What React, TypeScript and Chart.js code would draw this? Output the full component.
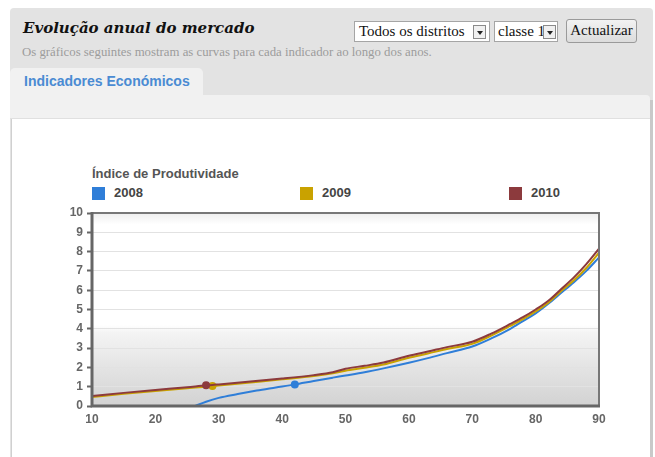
import React, { useEffect, useRef } from 'react';
import { Chart, registerables } from 'chart.js';

Chart.register(...registerables);

// ---- Data ----
const chartTitle = 'Índice de Produtividade';
const seriesNames = ['2008', '2009', '2010'];
const seriesColors = ['#2f7ed8', '#c9a200', '#8c3a3d'];

const x2008 = [26.3, 28, 30, 33, 36, 39, 42, 45, 48, 50, 53, 56, 60, 63, 66, 70, 73, 76, 78, 80, 82, 84, 86, 88, 90];
const y2008 = [0, 0.22, 0.42, 0.62, 0.8, 0.96, 1.12, 1.3, 1.47, 1.58, 1.75, 1.95, 2.24, 2.48, 2.74, 3.08, 3.5, 4.0, 4.4, 4.8, 5.3, 5.85, 6.4, 7.0, 7.7];

const x2009 = [10, 15, 20, 25, 28, 29, 30, 35, 40, 45, 48, 50, 53, 56, 60, 63, 66, 70, 73, 76, 78, 80, 82, 84, 86, 88, 90];
const y2009 = [0.47, 0.63, 0.78, 0.92, 1.0, 1.03, 1.06, 1.22, 1.38, 1.55, 1.7, 1.83, 1.98, 2.15, 2.5, 2.72, 2.95, 3.22, 3.65, 4.15, 4.5, 4.9, 5.35, 5.95, 6.5, 7.15, 7.95];

const x2010 = [10, 15, 20, 25, 28, 29, 30, 35, 40, 45, 48, 50, 53, 56, 60, 63, 66, 70, 73, 76, 78, 80, 82, 84, 86, 88, 90];
const y2010 = [0.52, 0.68, 0.83, 0.97, 1.07, 1.09, 1.12, 1.27, 1.42, 1.6, 1.75, 1.93, 2.08, 2.25, 2.6, 2.82, 3.05, 3.33, 3.75, 4.25, 4.6, 5.0, 5.45, 6.05, 6.65, 7.35, 8.15];

const markerX = [42, 29, 28];

const xTicks = [10, 20, 30, 40, 50, 60, 70, 80, 90];
const yTicks = [0, 1, 2, 3, 4, 5, 6, 7, 8, 9, 10];

const seriesX = [x2008, x2009, x2010];
const seriesY = [y2008, y2009, y2010];

const plotBg = {
  id: 'plotBg',
  beforeDraw(chart: any) {
    const { ctx, chartArea: a } = chart;
    if (!a) return;
    const g = ctx.createLinearGradient(0, a.top, 0, a.bottom);
    g.addColorStop(0, '#eeeeee');
    g.addColorStop(0.06, '#ffffff');
    g.addColorStop(0.58, '#ffffff');
    g.addColorStop(0.62, '#f4f4f4');
    g.addColorStop(1, '#d2d2d2');
    ctx.save();
    ctx.fillStyle = g;
    ctx.fillRect(a.left, a.top, a.right - a.left, a.bottom - a.top);
    ctx.restore();
  },
  afterDraw(chart: any) {
    const { ctx, chartArea: a } = chart;
    ctx.save();
    ctx.strokeStyle = '#777777';
    ctx.lineWidth = 2;
    ctx.beginPath();
    ctx.moveTo(a.left, a.top);
    ctx.lineTo(a.right, a.top);
    ctx.lineTo(a.right, a.bottom);
    ctx.stroke();
    ctx.strokeStyle = '#666666';
    ctx.lineWidth = 3;
    ctx.beginPath();
    ctx.moveTo(a.left, a.top - 1);
    ctx.lineTo(a.left, a.bottom);
    ctx.lineTo(a.right + 1, a.bottom);
    ctx.stroke();
    ctx.restore();
  },
};

function ChartBox() {
  const ref = useRef<HTMLCanvasElement>(null);
  useEffect(() => {
    if (!ref.current) return;
    const datasets = seriesNames.map((name, i) => ({
      label: name,
      data: seriesX[i].map((x, j) => ({ x, y: seriesY[i][j] })),
      borderColor: seriesColors[i],
      backgroundColor: seriesColors[i],
      borderWidth: 2,
      cubicInterpolationMode: 'monotone' as const,
      pointRadius: seriesX[i].map((x) => (x === markerX[i] ? 4 : 0)),
      pointBorderWidth: 0,
      order: 2 - i,
    }));
    const chart = new Chart(ref.current, {
      type: 'line',
      data: { datasets },
      plugins: [plotBg],
      options: {
        animation: false,
        responsive: false,
        layout: { padding: { top: 12, right: 21, left: 0, bottom: 0 } },
        plugins: { legend: { display: false }, tooltip: { enabled: false }, title: { display: false } },
        scales: {
          x: {
            type: 'linear',
            min: 10,
            max: 90,
            afterBuildTicks: (s: any) => { s.ticks = xTicks.map((v) => ({ value: v })); },
            afterFit: (s: any) => { s.height = 35; },
            grid: { display: false, drawTicks: false },
            border: { display: false },
            ticks: { padding: 6, color: '#666', font: { family: 'Liberation Sans', size: 12, weight: 'bold' } },
          },
          y: {
            type: 'linear',
            min: 0,
            max: 10,
            afterBuildTicks: (s: any) => { s.ticks = yTicks.map((v) => ({ value: v })); },
            afterFit: (s: any) => { s.width = 52; },
            grid: { color: '#e2e2e2', lineWidth: 1, tickColor: '#666', tickLength: 5, tickWidth: 2 },
            border: { display: false },
            ticks: { padding: 4, color: '#666', font: { family: 'Liberation Sans', size: 12, weight: 'bold' } },
          },
        },
      },
    });
    return () => chart.destroy();
  }, []);
  return <canvas ref={ref} width={580} height={240} style={{ position: 'absolute', left: 40, top: 201, width: 580, height: 240 }} />;
}

function Arrow({ left, top }: { left: number; top: number }) {
  return (
    <div style={{ position: 'absolute', left, top, width: 13, height: 14, border: '1px solid #8a8a8a', background: '#f0f0f0', boxSizing: 'border-box' }}>
      <div style={{ position: 'absolute', left: 3, top: 5, width: 0, height: 0, borderLeft: '3px solid transparent', borderRight: '3px solid transparent', borderTop: '4px solid #222' }} />
    </div>
  );
}

export default function App() {
  const serif = '"Liberation Serif", serif';
  return (
    <div style={{ position: 'fixed', left: 0, top: 0, width: 655, height: 457, background: '#fff', overflow: 'hidden' }}>
      {/* header panel */}
      <div style={{ position: 'absolute', left: 10, top: 8, width: 643, height: 460, background: '#e3e3e3', borderRadius: '4px 4px 0 0' }} />
      <div style={{ position: 'absolute', left: 23, top: 19, fontFamily: '"DejaVu Serif", serif', fontStyle: 'italic', fontWeight: 'bold', fontSize: 15, color: '#111', whiteSpace: 'nowrap' }}>
        Evolução anual do mercado
      </div>
      <div style={{ position: 'absolute', left: 22, top: 45, fontFamily: serif, fontSize: 12.8, color: '#9c9c9c', whiteSpace: 'nowrap' }}>
        Os gráficos seguintes mostram as curvas para cada indicador ao longo dos anos.
      </div>
      {/* select 1 */}
      <div style={{ position: 'absolute', left: 354, top: 21, width: 136, height: 21, background: '#fff', border: '1px solid #a5a5a5', boxSizing: 'border-box' }}>
        <div style={{ position: 'absolute', left: 4, top: 1, fontFamily: serif, fontSize: 15, color: '#111', whiteSpace: 'nowrap' }}>Todos os distritos</div>
      </div>
      <Arrow left={473} top={25} />
      {/* select 2 */}
      <div style={{ position: 'absolute', left: 494, top: 21, width: 64, height: 21, background: '#fff', border: '1px solid #a5a5a5', boxSizing: 'border-box', overflow: 'hidden' }}>
        <div style={{ position: 'absolute', left: 3, top: 1, fontFamily: serif, fontSize: 15, color: '#111', whiteSpace: 'nowrap' }}>classe 1</div>
      </div>
      <Arrow left={543} top={25} />
      {/* button */}
      <div style={{ position: 'absolute', left: 566, top: 19, width: 71, height: 24, background: 'linear-gradient(#f2f2f2, #dcdcdc)', border: '1px solid #9a9a9a', borderRadius: 3, boxSizing: 'border-box', fontFamily: serif, fontSize: 15, color: '#111', textAlign: 'center', lineHeight: '21px' }}>
        Actualizar
      </div>
      {/* tab */}
      <div style={{ position: 'absolute', left: 10, top: 68, width: 193, height: 30, background: '#f1f1f1', borderRadius: '5px 5px 0 0' }} />
      <div style={{ position: 'absolute', left: 24, top: 73, fontFamily: '"Liberation Sans", sans-serif', fontWeight: 'bold', fontSize: 14, color: '#4a8bd3', whiteSpace: 'nowrap' }}>
        Indicadores Económicos
      </div>
      {/* content box */}
      <div style={{ position: 'absolute', left: 10, top: 95, width: 640, height: 23, background: '#f1f1f1', borderRadius: '0 4px 0 0', borderBottom: '1px solid #e0e0e0' }} />
      <div style={{ position: 'absolute', left: 11, top: 119, width: 639, height: 340, background: '#fff', borderLeft: '1px solid #d0d0d0' }} />
      <div style={{ position: 'absolute', left: 650, top: 100, width: 3, height: 360, background: '#c9c9c9' }} />
      {/* chart title & legend */}
      <div style={{ position: 'absolute', left: 92, top: 166, fontFamily: '"Liberation Sans", sans-serif', fontWeight: 'bold', fontSize: 13, color: '#555', whiteSpace: 'nowrap' }}>
        {chartTitle}
      </div>
      {seriesNames.map((name, i) => {
        const lefts = [92, 300, 509];
        return (
          <div key={name} style={{ position: 'absolute', left: lefts[i], top: 187, height: 14, whiteSpace: 'nowrap' }}>
            <div style={{ position: 'absolute', left: 0, top: 0, width: 13, height: 13, background: seriesColors[i] }} />
            <div style={{ position: 'absolute', left: 22, top: -2, fontFamily: '"Liberation Sans", sans-serif', fontWeight: 'bold', fontSize: 13, color: '#444' }}>{name}</div>
          </div>
        );
      })}
      <ChartBox />
    </div>
  );
}
